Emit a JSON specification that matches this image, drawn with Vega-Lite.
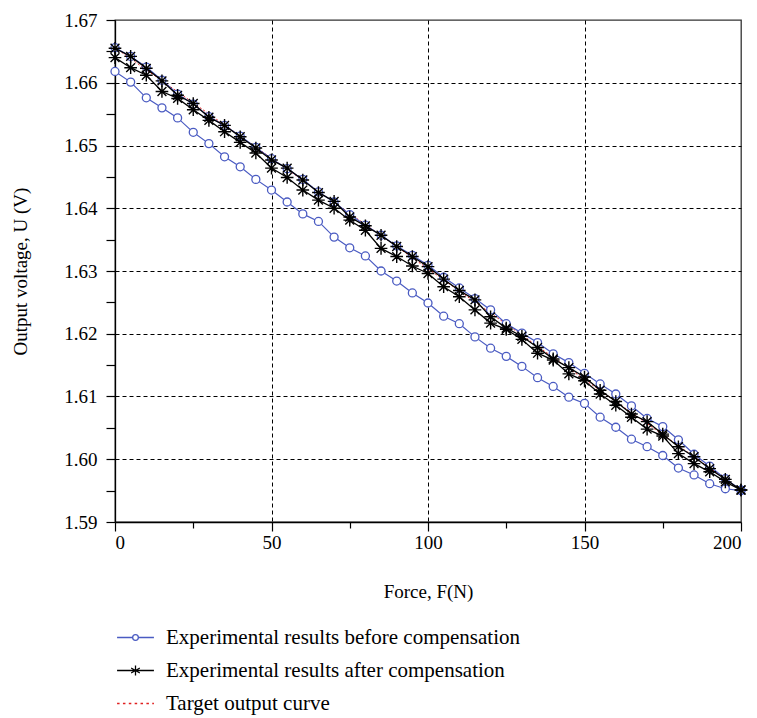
{
  "$schema": "https://vega.github.io/schema/vega-lite/v6.json",
  "width": 626,
  "height": 502,
  "autosize": "none",
  "padding": {"left": 115, "top": 20, "right": 16, "bottom": 196},
  "background": "white",
  "config": {
    "view": {"stroke": "#333", "strokeWidth": 1.3},
    "font": "Times New Roman, Liberation Serif, DejaVu Serif, serif",
    "axis": {
      "domainColor": "#000",
      "domainWidth": 1.3,
      "tickColor": "#000",
      "tickWidth": 1.2,
      "labelFont": "Times New Roman, Liberation Serif, DejaVu Serif, serif",
      "labelFontSize": 19,
      "labelColor": "#000",
      "titleFont": "Times New Roman, Liberation Serif, DejaVu Serif, serif",
      "titleFontSize": 19,
      "titleFontWeight": "normal",
      "titleColor": "#000",
      "gridColor": "#000",
      "gridDash": [4, 3],
      "gridWidth": 1
    },
    "legend": {
      "labelFont": "Times New Roman, Liberation Serif, DejaVu Serif, serif",
      "labelFontSize": 21,
      "labelColor": "#000",
      "labelLimit": 0
    }
  },
  "datasets": {
    "measured": [
      {"F": 0, "U": 1.6618, "series": "B1"}, {"F": 5, "U": 1.6601, "series": "B1"}, {"F": 10, "U": 1.6576, "series": "B1"}, {"F": 15, "U": 1.6560, "series": "B1"}, {"F": 20, "U": 1.6544, "series": "B1"}, {"F": 25, "U": 1.6521, "series": "B1"}, {"F": 30, "U": 1.6503, "series": "B1"}, {"F": 35, "U": 1.6482, "series": "B1"}, {"F": 40, "U": 1.6466, "series": "B1"}, {"F": 45, "U": 1.6446, "series": "B1"}, {"F": 50, "U": 1.6429, "series": "B1"}, {"F": 55, "U": 1.6410, "series": "B1"}, {"F": 60, "U": 1.6391, "series": "B1"}, {"F": 65, "U": 1.6379, "series": "B1"}, {"F": 70, "U": 1.6354, "series": "B1"}, {"F": 75, "U": 1.6337, "series": "B1"}, {"F": 80, "U": 1.6324, "series": "B1"}, {"F": 85, "U": 1.6300, "series": "B1"}, {"F": 90, "U": 1.6284, "series": "B1"}, {"F": 95, "U": 1.6265, "series": "B1"}, {"F": 100, "U": 1.6249, "series": "B1"}, {"F": 105, "U": 1.6228, "series": "B1"}, {"F": 110, "U": 1.6216, "series": "B1"}, {"F": 115, "U": 1.6195, "series": "B1"}, {"F": 120, "U": 1.6177, "series": "B1"}, {"F": 125, "U": 1.6164, "series": "B1"}, {"F": 130, "U": 1.6148, "series": "B1"}, {"F": 135, "U": 1.6130, "series": "B1"}, {"F": 140, "U": 1.6116, "series": "B1"}, {"F": 145, "U": 1.6099, "series": "B1"}, {"F": 150, "U": 1.6089, "series": "B1"}, {"F": 155, "U": 1.6067, "series": "B1"}, {"F": 160, "U": 1.6051, "series": "B1"}, {"F": 165, "U": 1.6032, "series": "B1"}, {"F": 170, "U": 1.6020, "series": "B1"}, {"F": 175, "U": 1.6006, "series": "B1"}, {"F": 180, "U": 1.5986, "series": "B1"}, {"F": 185, "U": 1.5975, "series": "B1"}, {"F": 190, "U": 1.5961, "series": "B1"}, {"F": 195, "U": 1.5953, "series": "B1"}, {"F": 200, "U": 1.5950, "series": "B1"},
      {"F": 0, "U": 1.6656, "series": "B2"}, {"F": 5, "U": 1.6642, "series": "B2"}, {"F": 10, "U": 1.6625, "series": "B2"}, {"F": 15, "U": 1.6604, "series": "B2"}, {"F": 20, "U": 1.6582, "series": "B2"}, {"F": 25, "U": 1.6566, "series": "B2"}, {"F": 30, "U": 1.6546, "series": "B2"}, {"F": 35, "U": 1.6532, "series": "B2"}, {"F": 40, "U": 1.6515, "series": "B2"}, {"F": 45, "U": 1.6497, "series": "B2"}, {"F": 50, "U": 1.6479, "series": "B2"}, {"F": 55, "U": 1.6463, "series": "B2"}, {"F": 60, "U": 1.6446, "series": "B2"}, {"F": 65, "U": 1.6426, "series": "B2"}, {"F": 70, "U": 1.6410, "series": "B2"}, {"F": 75, "U": 1.6390, "series": "B2"}, {"F": 80, "U": 1.6373, "series": "B2"}, {"F": 85, "U": 1.6357, "series": "B2"}, {"F": 90, "U": 1.6340, "series": "B2"}, {"F": 95, "U": 1.6325, "series": "B2"}, {"F": 100, "U": 1.6309, "series": "B2"}, {"F": 105, "U": 1.6290, "series": "B2"}, {"F": 110, "U": 1.6273, "series": "B2"}, {"F": 115, "U": 1.6256, "series": "B2"}, {"F": 120, "U": 1.6238, "series": "B2"}, {"F": 125, "U": 1.6216, "series": "B2"}, {"F": 130, "U": 1.6201, "series": "B2"}, {"F": 135, "U": 1.6186, "series": "B2"}, {"F": 140, "U": 1.6168, "series": "B2"}, {"F": 145, "U": 1.6154, "series": "B2"}, {"F": 150, "U": 1.6137, "series": "B2"}, {"F": 155, "U": 1.6120, "series": "B2"}, {"F": 160, "U": 1.6104, "series": "B2"}, {"F": 165, "U": 1.6085, "series": "B2"}, {"F": 170, "U": 1.6065, "series": "B2"}, {"F": 175, "U": 1.6052, "series": "B2"}, {"F": 180, "U": 1.6031, "series": "B2"}, {"F": 185, "U": 1.6008, "series": "B2"}, {"F": 190, "U": 1.5989, "series": "B2"}, {"F": 195, "U": 1.5969, "series": "B2"}, {"F": 200, "U": 1.5951, "series": "B2"},
      {"F": 0, "U": 1.6655, "series": "S1"}, {"F": 5, "U": 1.6642, "series": "S1"}, {"F": 10, "U": 1.6623, "series": "S1"}, {"F": 15, "U": 1.6603, "series": "S1"}, {"F": 20, "U": 1.6580, "series": "S1"}, {"F": 25, "U": 1.6567, "series": "S1"}, {"F": 30, "U": 1.6545, "series": "S1"}, {"F": 35, "U": 1.6532, "series": "S1"}, {"F": 40, "U": 1.6514, "series": "S1"}, {"F": 45, "U": 1.6496, "series": "S1"}, {"F": 50, "U": 1.6477, "series": "S1"}, {"F": 55, "U": 1.6464, "series": "S1"}, {"F": 60, "U": 1.6445, "series": "S1"}, {"F": 65, "U": 1.6425, "series": "S1"}, {"F": 70, "U": 1.6411, "series": "S1"}, {"F": 75, "U": 1.6386, "series": "S1"}, {"F": 80, "U": 1.6372, "series": "S1"}, {"F": 85, "U": 1.6357, "series": "S1"}, {"F": 90, "U": 1.6339, "series": "S1"}, {"F": 95, "U": 1.6323, "series": "S1"}, {"F": 100, "U": 1.6307, "series": "S1"}, {"F": 105, "U": 1.6287, "series": "S1"}, {"F": 110, "U": 1.6269, "series": "S1"}, {"F": 115, "U": 1.6254, "series": "S1"}, {"F": 120, "U": 1.6227, "series": "S1"}, {"F": 125, "U": 1.6209, "series": "S1"}, {"F": 130, "U": 1.6196, "series": "S1"}, {"F": 135, "U": 1.6178, "series": "S1"}, {"F": 140, "U": 1.6160, "series": "S1"}, {"F": 145, "U": 1.6146, "series": "S1"}, {"F": 150, "U": 1.6131, "series": "S1"}, {"F": 155, "U": 1.6110, "series": "S1"}, {"F": 160, "U": 1.6092, "series": "S1"}, {"F": 165, "U": 1.6072, "series": "S1"}, {"F": 170, "U": 1.6060, "series": "S1"}, {"F": 175, "U": 1.6040, "series": "S1"}, {"F": 180, "U": 1.6020, "series": "S1"}, {"F": 185, "U": 1.6004, "series": "S1"}, {"F": 190, "U": 1.5985, "series": "S1"}, {"F": 195, "U": 1.5968, "series": "S1"}, {"F": 200, "U": 1.5951, "series": "S1"},
      {"F": 0, "U": 1.6640, "series": "S2"}, {"F": 5, "U": 1.6624, "series": "S2"}, {"F": 10, "U": 1.6612, "series": "S2"}, {"F": 15, "U": 1.6586, "series": "S2"}, {"F": 20, "U": 1.6575, "series": "S2"}, {"F": 25, "U": 1.6557, "series": "S2"}, {"F": 30, "U": 1.6540, "series": "S2"}, {"F": 35, "U": 1.6522, "series": "S2"}, {"F": 40, "U": 1.6505, "series": "S2"}, {"F": 45, "U": 1.6488, "series": "S2"}, {"F": 50, "U": 1.6464, "series": "S2"}, {"F": 55, "U": 1.6449, "series": "S2"}, {"F": 60, "U": 1.6429, "series": "S2"}, {"F": 65, "U": 1.6413, "series": "S2"}, {"F": 70, "U": 1.6400, "series": "S2"}, {"F": 75, "U": 1.6381, "series": "S2"}, {"F": 80, "U": 1.6365, "series": "S2"}, {"F": 85, "U": 1.6336, "series": "S2"}, {"F": 90, "U": 1.6323, "series": "S2"}, {"F": 95, "U": 1.6308, "series": "S2"}, {"F": 100, "U": 1.6296, "series": "S2"}, {"F": 105, "U": 1.6275, "series": "S2"}, {"F": 110, "U": 1.6259, "series": "S2"}, {"F": 115, "U": 1.6238, "series": "S2"}, {"F": 120, "U": 1.6217, "series": "S2"}, {"F": 125, "U": 1.6207, "series": "S2"}, {"F": 130, "U": 1.6191, "series": "S2"}, {"F": 135, "U": 1.6169, "series": "S2"}, {"F": 140, "U": 1.6158, "series": "S2"}, {"F": 145, "U": 1.6136, "series": "S2"}, {"F": 150, "U": 1.6125, "series": "S2"}, {"F": 155, "U": 1.6104, "series": "S2"}, {"F": 160, "U": 1.6086, "series": "S2"}, {"F": 165, "U": 1.6067, "series": "S2"}, {"F": 170, "U": 1.6048, "series": "S2"}, {"F": 175, "U": 1.6037, "series": "S2"}, {"F": 180, "U": 1.6009, "series": "S2"}, {"F": 185, "U": 1.5993, "series": "S2"}, {"F": 190, "U": 1.5980, "series": "S2"}, {"F": 195, "U": 1.5964, "series": "S2"}, {"F": 200, "U": 1.5951, "series": "S2"}
    ],
    "target": [
      {"F": 0, "U": 1.6656},
      {"F": 200, "U": 1.5951}
    ],
    "legendItems": [
      {"label": "Experimental results before compensation"},
      {"label": "Experimental results after compensation"},
      {"label": "Target output curve"}
    ]
  },
  "encoding": {
    "x": {
      "field": "F", "type": "quantitative",
      "scale": {"domain": [0, 200], "nice": false},
      "axis": {
        "title": "Force, F(N)",
        "values": [0, 25, 50, 75, 100, 125, 150, 175, 200],
        "labelExpr": "datum.value % 50 === 0 ? datum.label : ''",
        "tickSize": {"condition": {"test": "datum.value % 50 === 0", "value": 9}, "value": 6},
        "grid": true,
        "gridOpacity": {"condition": {"test": "datum.value % 50 === 0 && datum.value > 0 && datum.value < 200", "value": 1}, "value": 0},
        "labelPadding": 2,
        "titlePadding": 30
      }
    },
    "y": {
      "field": "U", "type": "quantitative",
      "scale": {"domain": [1.59, 1.67], "nice": false, "zero": false},
      "axis": {
        "title": "Output voltage, U (V)",
        "values": [1.59, 1.595, 1.6, 1.605, 1.61, 1.615, 1.62, 1.625, 1.63, 1.635, 1.64, 1.645, 1.65, 1.655, 1.66, 1.665, 1.67],
        "format": ".2f",
        "labelExpr": "abs(datum.value * 100 - round(datum.value * 100)) < 0.01 ? datum.label : ''",
        "tickSize": 9,
        "grid": true,
        "gridOpacity": {"condition": {"test": "abs(datum.value * 100 - round(datum.value * 100)) < 0.01 && datum.value > 1.591 && datum.value < 1.669", "value": 1}, "value": 0},
        "labelPadding": 9,
        "titlePadding": 33
      }
    }
  },
  "layer": [
    {
      "data": {"name": "target"},
      "mark": {"type": "line", "color": "#e02020", "strokeDash": [2, 2], "strokeWidth": 1}
    },
    {
      "data": {"name": "measured"},
      "transform": [{"filter": "datum.series === 'B1' || datum.series === 'B2'"}],
      "mark": {"type": "line", "color": "#4a5bc2", "strokeWidth": 1.2},
      "encoding": {"detail": {"field": "series"}}
    },
    {
      "data": {"name": "measured"},
      "transform": [{"filter": "datum.series === 'B1' || datum.series === 'B2'"}],
      "mark": {"type": "point", "shape": "circle", "size": 64, "fill": "white", "stroke": "#4a5bc2", "strokeWidth": 1.3, "opacity": 1, "filled": false},
      "encoding": {"detail": {"field": "series"}}
    },
    {
      "data": {"name": "measured"},
      "transform": [{"filter": "datum.series === 'S1' || datum.series === 'S2'"}],
      "mark": {"type": "line", "color": "#000", "strokeWidth": 1.3},
      "encoding": {"detail": {"field": "series"}}
    },
    {
      "data": {"name": "measured"},
      "transform": [{"filter": "datum.series === 'S1' || datum.series === 'S2'"}],
      "mark": {"type": "point", "shape": "M0,-1V1M-1,0H1M-0.7,-0.7L0.7,0.7M-0.7,0.7L0.7,-0.7", "size": 160, "stroke": "#000", "strokeWidth": 1.4, "opacity": 1, "filled": false},
      "encoding": {"detail": {"field": "series"}}
    },
    {
      "data": {"name": "legendItems"},
      "mark": {"type": "point", "filled": false, "opacity": 0, "strokeWidth": 1.3},
      "encoding": {
        "x": {"datum": 100},
        "y": {"datum": 1.63},
        "color": {
          "field": "label", "type": "nominal",
          "scale": {"domain": ["Experimental results before compensation", "Experimental results after compensation", "Target output curve"], "range": ["#4a5bc2", "#000000", "#e02020"]},
          "legend": {"title": null, "orient": "none", "legendX": 3, "legendY": 600, "symbolSize": 1122, "symbolOpacity": 1, "symbolStrokeWidth": 1.3, "rowPadding": 5, "labelOffset": 13, "symbolFillColor": "transparent"}
        },
        "shape": {
          "field": "label", "type": "nominal",
          "scale": {"domain": ["Experimental results before compensation", "Experimental results after compensation", "Target output curve"], "range": ["M-1.1,0H-0.17M0.17,0H1.1M0.17,0A0.17,0.17 0 1,1 -0.17,0A0.17,0.17 0 1,1 0.17,0", "M-1.1,0H1.1M0,-0.3V0.3M-0.26,-0.15L0.26,0.15M-0.26,0.15L0.26,-0.15", "M-1.1,0H-0.95M-0.75,0H-0.6M-0.4,0H-0.25M-0.05,0H0.1M0.3,0H0.45M0.65,0H0.8M1.0,0H1.1"]}
        }
      }
    }
  ]
}
